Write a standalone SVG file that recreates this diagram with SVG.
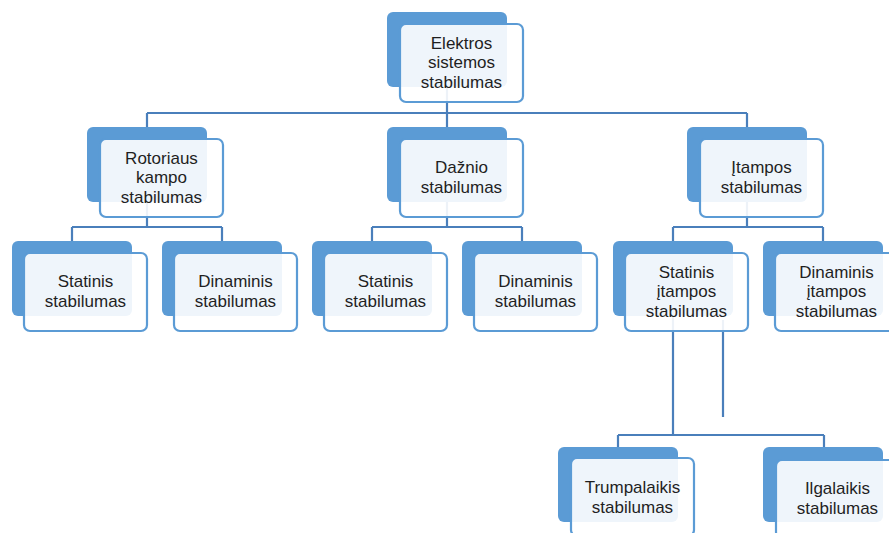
<svg xmlns="http://www.w3.org/2000/svg" width="889" height="533" viewBox="0 0 889 533">
  <style>
    .back { fill: #5b9bd5; }
    .front { fill: #ffffff; fill-opacity: 0.9; stroke: #5b9bd5; stroke-width: 2.2; }
    .link { fill: none; stroke: #4a7fbb; stroke-width: 2.2; }
    .label { font-family: "Liberation Sans", Arial, sans-serif; font-size: 17px; fill: #1f1f1f; text-anchor: middle; }
  </style>
  <rect width="889" height="533" fill="#ffffff"/>

  <!-- connectors (drawn beneath the cards) -->
  <g id="connectors" class="link">
    <path d="M447,87 V113 M147,113 H747 M147,113 V127 M447,113 V127 M747,113 V127"/>
    <path d="M147,202 V227 M72,227 H222 M72,227 V241 M222,227 V241"/>
    <path d="M447,202 V227 M372,227 H522 M372,227 V241 M522,227 V241"/>
    <path d="M747,202 V227 M673,227 H823 M673,227 V241 M823,227 V241"/>
    <path d="M673,315 V435 M618,435 H824 M618,435 V447 M824,435 V447"/>
    <path d="M723,320 V417"/>
  </g>

  <g id="n-root">
    <rect class="back" x="387" y="12" width="120" height="75" rx="6"/>
    <rect class="front" x="400" y="24" width="123" height="78" rx="6"/>
    <text class="label" x="461.5"><tspan x="461.5" y="48.5">Elektros</tspan><tspan x="461.5" y="68">sistemos</tspan><tspan x="461.5" y="87.5">stabilumas</tspan></text>
  </g>

  <g id="n-rotor">
    <rect class="back" x="87" y="127" width="120" height="75" rx="6"/>
    <rect class="front" x="100" y="139" width="123" height="78" rx="6"/>
    <text class="label"><tspan x="161.5" y="163.5">Rotoriaus</tspan><tspan x="161.5" y="183">kampo</tspan><tspan x="161.5" y="202.5">stabilumas</tspan></text>
  </g>

  <g id="n-freq">
    <rect class="back" x="387" y="127" width="120" height="75" rx="6"/>
    <rect class="front" x="400" y="139" width="123" height="78" rx="6"/>
    <text class="label"><tspan x="461.5" y="173">Dažnio</tspan><tspan x="461.5" y="192.5">stabilumas</tspan></text>
  </g>

  <g id="n-volt">
    <rect class="back" x="687" y="127" width="120" height="75" rx="6"/>
    <rect class="front" x="700" y="139" width="123" height="78" rx="6"/>
    <text class="label"><tspan x="761.5" y="173">Įtampos</tspan><tspan x="761.5" y="192.5">stabilumas</tspan></text>
  </g>

  <g id="n-rotor-static">
    <rect class="back" x="12" y="241" width="120" height="75" rx="6"/>
    <rect class="front" x="24" y="253" width="123" height="78" rx="6"/>
    <text class="label"><tspan x="85.5" y="287">Statinis</tspan><tspan x="85.5" y="306.5">stabilumas</tspan></text>
  </g>

  <g id="n-rotor-dynamic">
    <rect class="back" x="162" y="241" width="120" height="75" rx="6"/>
    <rect class="front" x="174" y="253" width="123" height="78" rx="6"/>
    <text class="label"><tspan x="235.5" y="287">Dinaminis</tspan><tspan x="235.5" y="306.5">stabilumas</tspan></text>
  </g>

  <g id="n-freq-static">
    <rect class="back" x="312" y="241" width="120" height="75" rx="6"/>
    <rect class="front" x="324" y="253" width="123" height="78" rx="6"/>
    <text class="label"><tspan x="385.5" y="287">Statinis</tspan><tspan x="385.5" y="306.5">stabilumas</tspan></text>
  </g>

  <g id="n-freq-dynamic">
    <rect class="back" x="462" y="241" width="120" height="75" rx="6"/>
    <rect class="front" x="474" y="253" width="123" height="78" rx="6"/>
    <text class="label"><tspan x="535.5" y="287">Dinaminis</tspan><tspan x="535.5" y="306.5">stabilumas</tspan></text>
  </g>

  <g id="n-volt-static">
    <rect class="back" x="613" y="241" width="120" height="75" rx="6"/>
    <rect class="front" x="625" y="253" width="123" height="78" rx="6"/>
    <text class="label"><tspan x="686.5" y="277.5">Statinis</tspan><tspan x="686.5" y="297">įtampos</tspan><tspan x="686.5" y="316.5">stabilumas</tspan></text>
  </g>

  <g id="n-volt-dynamic">
    <rect class="back" x="763" y="241" width="120" height="75" rx="6"/>
    <rect class="front" x="775" y="253" width="123" height="78" rx="6"/>
    <text class="label"><tspan x="836.5" y="277.5">Dinaminis</tspan><tspan x="836.5" y="297">įtampos</tspan><tspan x="836.5" y="316.5">stabilumas</tspan></text>
  </g>

  <g id="n-short-term">
    <rect class="back" x="558" y="447" width="120" height="75" rx="6"/>
    <rect class="front" x="571" y="458" width="123" height="78" rx="6"/>
    <text class="label"><tspan x="632.5" y="493">Trumpalaikis</tspan><tspan x="632.5" y="512.5">stabilumas</tspan></text>
  </g>

  <g id="n-long-term">
    <rect class="back" x="763" y="447" width="120" height="75" rx="6"/>
    <rect class="front" x="776" y="460" width="123" height="78" rx="6"/>
    <text class="label"><tspan x="837.5" y="494">Ilgalaikis</tspan><tspan x="837.5" y="513.5">stabilumas</tspan></text>
  </g>
</svg>
